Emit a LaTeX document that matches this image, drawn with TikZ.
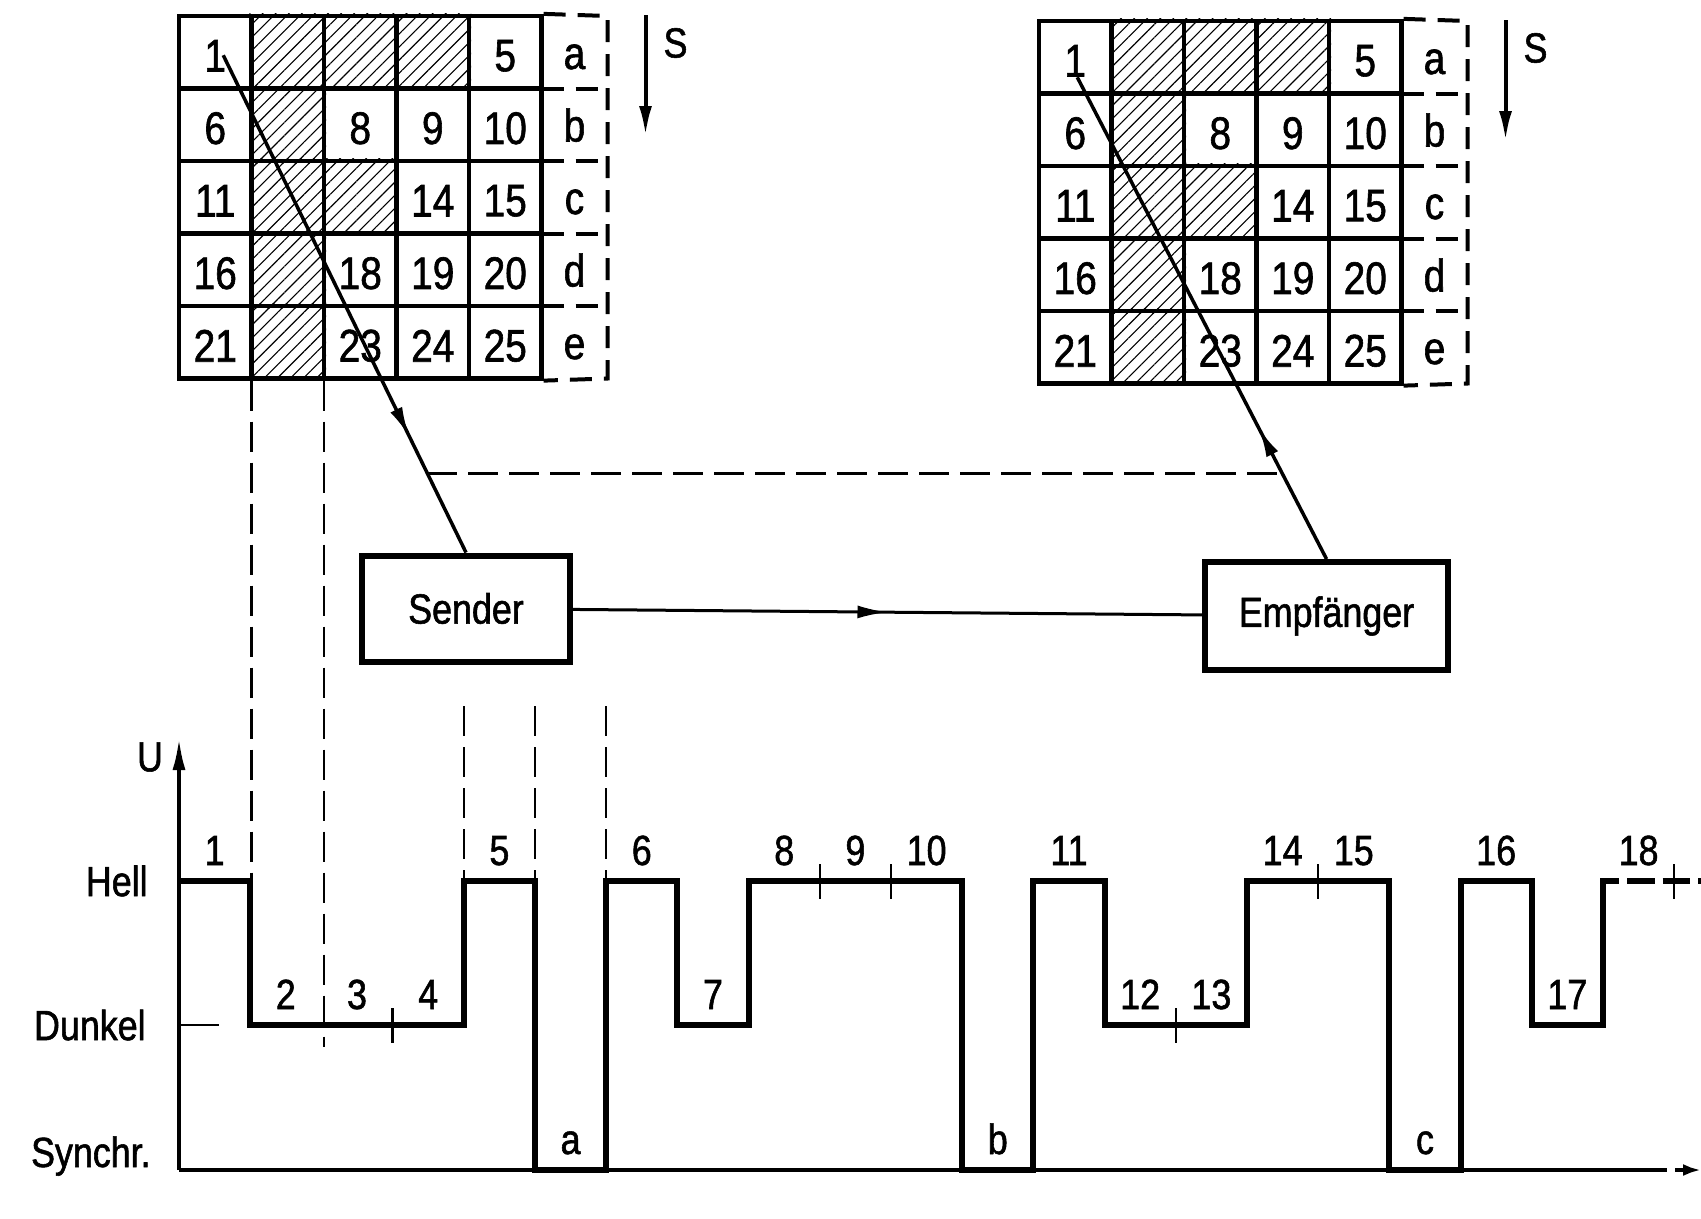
\documentclass[tikz,border=0pt]{standalone}
\usepackage{fontspec}
\setmainfont{Liberation Sans}[FakeStretch=0.85,FakeBold=1.3]
\usetikzlibrary{arrows.meta,calc,patterns.meta,decorations.markings}
% 5x5 raster with row labels and scan direction S
% #1 name prefix, #2/#3 top left corner
\newcommand{\rastergrid}[3]{%
  \foreach \ri in {1,...,5}
    \foreach \ci in {1,...,5}
      \node[cell] (#1\ri\ci) at ({#2+(\ci-0.5)*\cw},{#3+(\ri-0.5)*\cw}) {};
  \foreach \ri/\ci in {1/2,1/3,1/4,2/2,3/2,3/3,4/2,5/2}
    \fill[hatch] (#1\ri\ci.south west) rectangle (#1\ri\ci.north east);
  \foreach \ri/\ci in {1/1,1/5,2/1,2/3,2/4,2/5,3/1,3/4,3/5,4/1,4/3,4/4,4/5,5/1,5/3,5/4,5/5}{
    \pgfmathtruncatemacro\n{(\ri-1)*5+\ci}
    \node[num] at (#1\ri\ci) {\n};}
  \foreach \ri/\lt in {1/a,2/b,3/c,4/d,5/e}
    \node[lcell] (#1\lt) at ({#2+5*\cw+33},{#3+(\ri-0.5)*\cw}) {\lt};
  \draw[ldash] (#115.north east) -- (#1a.north east) -- (#1e.south east) -- (#155.south east);
  \foreach \lt in {a,b,c,d} \draw[ldash] (#1\lt.south west) -- (#1\lt.south east);
  \coordinate (#1s0) at ({#2+5*\cw+104},{#3-1});
  \coordinate (#1s1) at ({#2+5*\cw+104},{#3+120});
  \draw[sarr] (#1s0) -- (#1s1);
  \node (#1S) at ({#2+5*\cw+134},{#3+27}) {S};
}
\begin{document}
\begin{tikzpicture}[x=0.2mm,y=-0.2mm,inner sep=0pt,font=\fontsize{24}{28}\selectfont,
  cell/.style={draw,line width=0.85mm,minimum size=14.5mm},
  num/.style={font=\fontsize{26}{30}\selectfont,yshift=-0.7mm},
  lcell/.style={minimum width=13.2mm,minimum height=14.5mm,outer sep=0pt,text height=6.7mm,text depth=0pt,font=\fontsize{26}{30}\selectfont},
  hatch/.style={pattern={Lines[angle=45,distance=1.85mm,line width=0.22mm]}},
  ldash/.style={line width=0.8mm,dash pattern=on 4.4mm off 2.4mm},
  sarr/.style={line width=0.8mm,-{Latex[length=6mm,width=2.6mm]}},
  box/.style={draw,line width=1.2mm},
  scan/.style={line width=0.7mm},
  link/.style={line width=0.6mm},
  dsh/.style={line width=0.45mm,dash pattern=on 6mm off 2.2mm},
  wave/.style={line width=1.2mm},
  ax/.style={line width=0.75mm},
  tickln/.style={line width=0.5mm},
  slot/.style={anchor=base,yshift=3.2mm},
  mid arrow/.style={postaction={decorate,decoration={markings,mark=at position #1 with {\arrow{Latex[length=6mm,width=2.6mm]}}}}}]
\useasboundingbox (0,0) rectangle (1701,1218);
\def\cw{72.5}
\def\xo{179}\def\uw{71.2}
\def\yH{881}\def\yD{1025}\def\yS{1170}
% rasters
\rastergrid{L}{179}{16}
\rastergrid{R}{1039}{21}
\node[box,minimum width=41.6mm,minimum height=21.2mm] (snd) at (466,608.5) {Sender};
\node[box,minimum width=48.6mm,minimum height=21.6mm] (emp) at (1326.5,616) {Empfänger};
\coordinate (sL) at ($(L11)+(8,3)$);
\coordinate (sR) at ($(R11)+(2,20)$);
\draw[scan,mid arrow=0.767] (sL) -- (snd.north);
\draw[scan,mid arrow=0.273] (emp.north) -- (sR);
\coordinate (dl) at ($(sL)!0.841!(snd.north)$);
\coordinate (dr) at ($(emp.north)!0.178!(sR)$);
\draw[dsh] (dl) -- (dl -| dr);
\draw[link,mid arrow=0.5] (snd) -- (emp);
% signal
\coordinate (o) at (\xo,\yS);
\coordinate (utop) at (\xo,738);
\coordinate (tend) at (1652,\yS);
\coordinate (tarr) at (1701,\yS);
\draw[ax,-{Latex[length=6.4mm,width=2.6mm]}] (o) -- (utop);
\draw[ax] (o) -- (tend);
\draw[ax,dash pattern=on 3mm off 1.6mm,-{Latex[length=3.6mm,width=2.4mm]}] (tend) -- (tarr);
\node (u) at (150,757) {U};
\node[anchor=east] (hell) at (148,\yH) {Hell};
\node[anchor=east] (dunkel) at (146,\yD) {Dunkel};
\node[anchor=base east] (synchr) at (151,1167) {Synchr.};
\draw[line width=0.4mm] (o |- dunkel) -- ++(40,0);
\coordinate (g1) at ($(L51.south east)!0.5!(L52.south west)$);
\coordinate (g2) at ($(L52.south east)!0.5!(L53.south west)$);
\draw[dsh] (g1) -- (g1 |- hell);
\draw[dsh] (g2) -- ($(g2 |- dunkel)+(0,22)$);
\foreach \kk in {4,5,6} \draw[dsh] ({\xo+\kk*\uw},706) -- ({\xo+\kk*\uw},\yH);
\draw[wave] (o |- hell) \foreach \lv [count=\kk from 0] in {\yH,\yD,\yD,\yD,\yH,\yS,\yH,\yD,\yH,\yH,\yH,\yS,\yH,\yD,\yD,\yH,\yH,\yS,\yH,\yD}
  { -- ({\xo+\kk*\uw},\lv) -- ({\xo+(\kk+1)*\uw},\lv) } -- ({\xo+20*\uw},\yH) -- ++(16,0) coordinate (wend);
\draw[wave,dash pattern=on 5.5mm off 1.6mm,dash phase=5.5mm] (wend) -- (1701,\yH);
\foreach \tx/\lv [count=\kk from 0] in {1/\yH,2/\yD,3/\yD,4/\yD,5/\yH,a/\yS,6/\yH,7/\yD,8/\yH,9/\yH,10/\yH,b/\yS,11/\yH,12/\yD,13/\yD,14/\yH,15/\yH,c/\yS,16/\yH,17/\yD,18/\yH}
  \node[slot] (w\tx) at ({\xo+(\kk+0.5)*\uw},\lv) {\tx};
\foreach \kk/\lv in {3/\yD,9/\yH,10/\yH,14/\yD,16/\yH,21/\yH}
  \draw[tickln] ({\xo+\kk*\uw},{\lv-17}) -- ++(0,35);
\end{tikzpicture}
\end{document}
